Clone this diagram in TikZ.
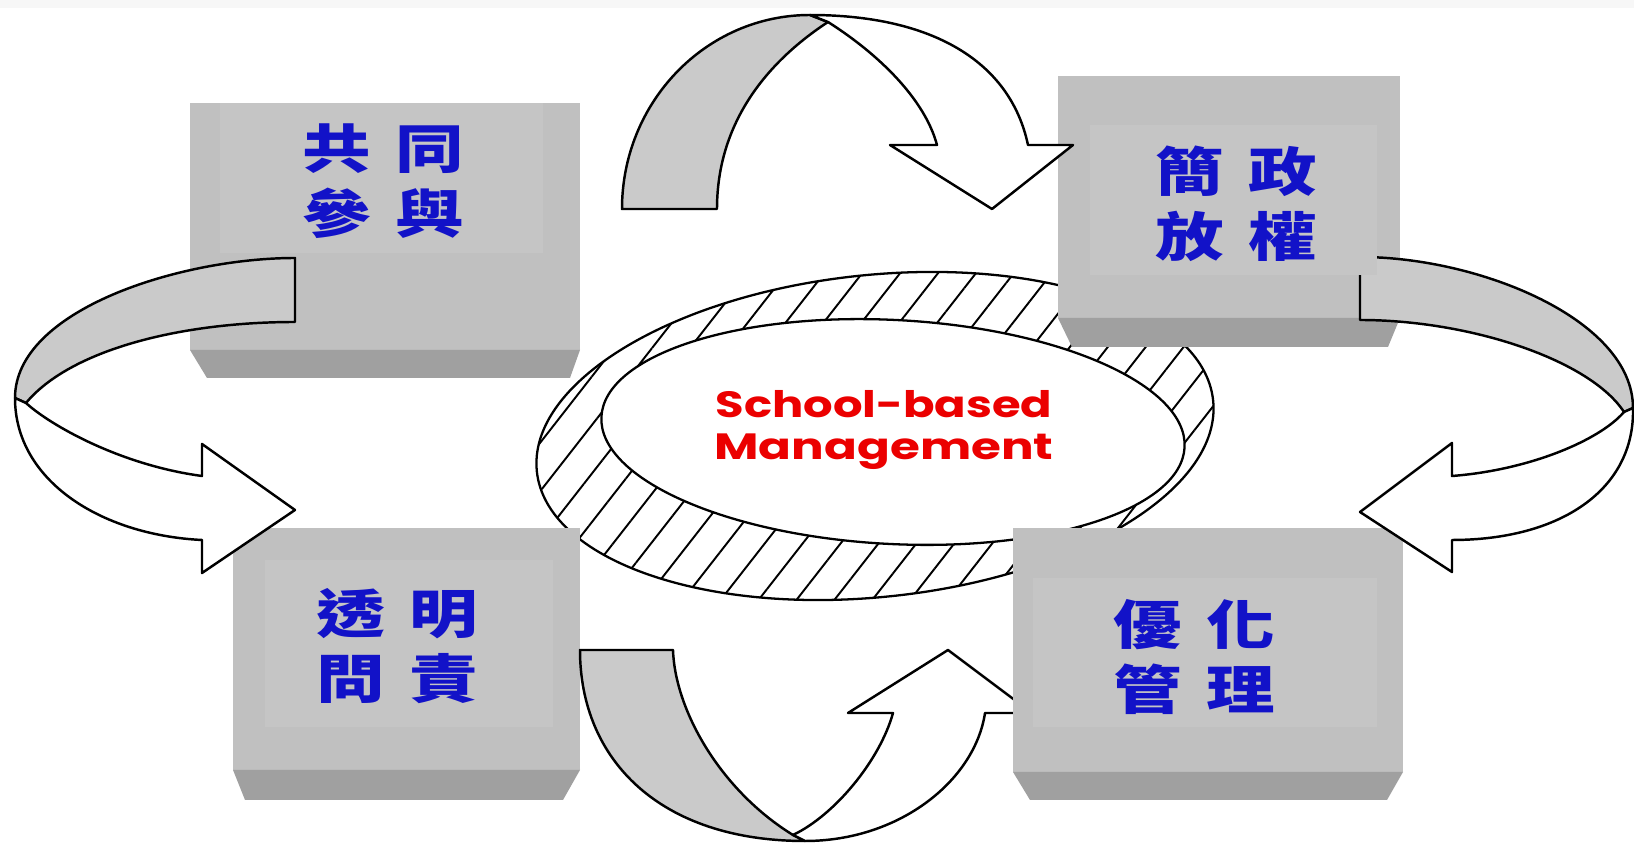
\documentclass[tikz,border=0pt]{standalone}
\usepackage{fontspec}
\usepackage{graphicx}
\newfontfamily\cjk{Noto Sans CJK TC}
\newfontfamily\sbm{Poppins}
\usetikzlibrary{patterns.meta}
\definecolor{boxgray}{RGB}{192,192,192}
\definecolor{panelgray}{RGB}{197,197,197}
\definecolor{darkstrip}{RGB}{160,160,160}
\definecolor{arrowgray}{RGB}{202,202,202}
\definecolor{cjkblue}{RGB}{18,18,200}
\definecolor{sbmred}{RGB}{235,0,0}
\definecolor{topband}{RGB}{247,247,247}
\tikzset{
  outl/.style={draw=black, line width=0.7pt, line join=round},
  backband/.style={outl, fill=arrowgray},
  frontband/.style={outl, fill=white},
  boxbody/.style={fill=boxgray},
  boxstrip/.style={fill=darkstrip},
  boxpanel/.style={fill=panelgray},
  cjklabel/.style={inner sep=0pt, text=cjkblue, align=center,
    font=\cjk\bfseries\fontsize{15pt}{18.5pt}\selectfont},
  sbmlabel/.style={inner sep=0pt, anchor=base, text=sbmred,
    font=\sbm\bfseries\fontsize{10.4pt}{12pt}\selectfont},
  ringline/.style={draw=black, line width=0.65pt},
}
\newcommand{\cjkpair}[2]{\scalebox{1.3}[1]{#1\hspace{0.36em}#2}}
\begin{document}
\begin{tikzpicture}[x=0.1mm,y=-0.1mm]
\useasboundingbox[fill=white] (0,0) rectangle (1634,843);
\fill[topband] (0,0) rectangle (1634,8);

% central ring
\filldraw[ringline, pattern={Lines[angle=52,distance=8.5pt,line width=0.55pt]}, pattern color=black,
  rotate around={6:(875,436)}] (875,436) ellipse [x radius=34mm, y radius=16.1mm];
\filldraw[ringline, fill=white, rotate around={-3:(893,432)}] (893,432) ellipse [x radius=29.2mm, y radius=11.2mm];
\node[sbmlabel] (sbm1) at (884,418) {\resizebox{33.7mm}{\height}{School-based}};
\node[sbmlabel] (sbm2) at (884,460) {\resizebox{33.9mm}{\height}{Management}};

% box bodies 1-3
\fill[boxbody] (190,103) rectangle (580,350);
\fill[boxstrip] (190,350) -- (580,350) -- (570,378) -- (207,378) -- cycle;
\fill[boxbody] (1058,76) rectangle (1400,318);
\fill[boxstrip] (1058,318) -- (1400,318) -- (1388,347) -- (1072,347) -- cycle;
\fill[boxbody] (233,528) rectangle (580,770);
\fill[boxstrip] (233,770) -- (580,770) -- (563,800) -- (245,800) -- cycle;

% bottom arrow (behind box 4)
\filldraw[backband] (580,650) .. controls (580,760) and (660,841) .. (805,841)
  -- (793,835) .. controls (720,790) and (675,710) .. (673,650) -- cycle;
\filldraw[frontband] (805,841) .. controls (900,841) and (975,780) .. (985,713)
  -- (1032,713) -- (948,650) -- (848,713) -- (893,713)
  .. controls (880,760) and (835,815) .. (793,835) -- cycle;

% box 4 body
\fill[boxbody] (1013,528) rectangle (1403,772);
\fill[boxstrip] (1013,772) -- (1403,772) -- (1387,800) -- (1030,800) -- cycle;

% top arrow
\filldraw[backband] (622,209) .. controls (622,102) and (706,15) .. (810,15)
  -- (828,22) .. controls (770,60) and (717,120) .. (717,209) -- cycle;
\filldraw[frontband] (810,15) .. controls (930,15) and (1010,60) .. (1028,145)
  -- (1073,145) -- (992,209) -- (890,145) -- (937,145)
  .. controls (925,100) and (880,55) .. (828,22) -- cycle;

% left arrow
\filldraw[backband] (295,258) .. controls (180,258) and (15,310) .. (15,398)
  -- (26,403) .. controls (70,350) and (180,322) .. (295,322) -- cycle;
\filldraw[frontband] (15,398) .. controls (15,480) and (100,535) .. (202,540)
  -- (202,573) -- (295,510) -- (202,444) -- (202,476)
  .. controls (120,465) and (50,425) .. (26,403) -- cycle;

% right arrow
\filldraw[backband] (1360,257) .. controls (1480,257) and (1633,320) .. (1633,408)
  -- (1624,412) .. controls (1590,360) and (1470,320) .. (1360,320) -- cycle;
\filldraw[frontband] (1633,408) .. controls (1635,490) and (1560,540) .. (1452,540)
  -- (1452,572) -- (1360,512) -- (1452,443) -- (1452,476)
  .. controls (1530,470) and (1600,440) .. (1624,412) -- cycle;

% panels and labels
\fill[boxpanel] (220,103) rectangle (543,253);
\node[cjklabel] (t1) at (383,181) {\cjkpair{共}{同}\\\cjkpair{參}{與}};
\fill[boxpanel] (1090,125) rectangle (1377,275);
\node[cjklabel] (t2) at (1236,204) {\cjkpair{簡}{政}\\\cjkpair{放}{權}};
\fill[boxpanel] (265,560) rectangle (553,727);
\node[cjklabel] (t3) at (397,646) {\cjkpair{透}{明}\\\cjkpair{問}{責}};
\fill[boxpanel] (1033,578) rectangle (1377,727);
\node[cjklabel] (t4) at (1194,657) {\cjkpair{優}{化}\\\cjkpair{管}{理}};
\end{tikzpicture}
\end{document}
